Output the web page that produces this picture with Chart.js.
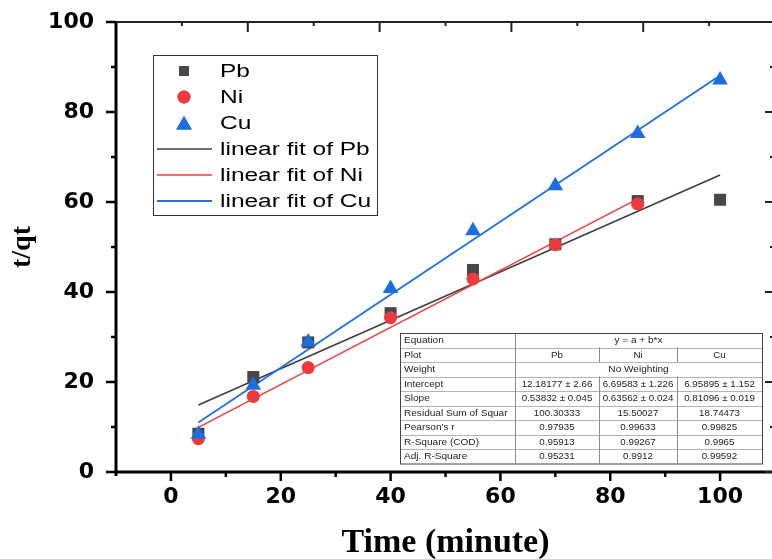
<!DOCTYPE html>
<html>
<head>
<meta charset="utf-8">
<script src="https://cdn.jsdelivr.net/npm/chart.js@4.4.1/dist/chart.umd.min.js"></script>
<style>
    html, body { margin: 0; padding: 0; background: #fff; overflow: hidden; }
    #wrap { position: relative; width: 784px; height: 559px; }
</style>
</head>
<body>
<div id="wrap"><canvas id="kinetics" width="784" height="559"></canvas></div>
<script>
// Measured points (t in minutes, t/qt)
const times = [5, 15, 25, 40, 55, 70, 85, 100];
const pbValues = [8.5, 21.1, 28.8, 35.3, 44.9, 50.6, 60.2, 60.5];
const niValues = [7.4, 16.8, 23.2, 34.3, 42.9, 50.5, 59.6]; // no Ni point at 100
const cuValues = [8.4, 19.3, 28.9, 40.8, 53.6, 63.6, 75.2, 87.1];

// Fitted line end points
const pbFitX = [5, 100];
const pbFitY = [14.9, 66.0];
const niFitX = [5, 85];
const niFitY = [9.9, 60.7];
const cuFitX = [5, 100];
const cuFitY = [11.0, 88.1];

// Axis ticks
const xTicks = [0, 20, 40, 60, 80, 100];
const xMinorTicks = [10, 30, 50, 70, 90];
const yTicks = [0, 20, 40, 60, 80, 100];
const yMinorTicks = [10, 30, 50, 70, 90];
const topMajorTicks = [14, 38, 62, 86];
const topMinorTicks = [2, 26, 50, 74, 98];

// Fit summary table
const tableRows = [
    ['Equation', 'y = a + b*x'],
    ['Plot', 'Pb', 'Ni', 'Cu'],
    ['Weight', 'No Weighting'],
    ['Intercept', '12.18177 ± 2.66', '6.69583 ± 1.226', '6.95895 ± 1.152'],
    ['Slope', '0.53832 ± 0.045', '0.63562 ± 0.024', '0.81096 ± 0.019'],
    ['Residual Sum of Squar', '100.30333', '15.50027', '18.74473'],
    ["Pearson's r", '0.97935', '0.99633', '0.99825'],
    ['R-Square (COD)', '0.95913', '0.99267', '0.9965'],
    ['Adj. R-Square', '0.95231', '0.9912', '0.99592']
];

const PB = '#474747', NI = '#ee3a3a', CU = '#1c6ee0';

const pts = (xs, ys) => ys.map((y, i) => ({ x: xs[i], y: y }));

// stretched text (the original figure is a bit wider than its fonts)
function wideText(ctx, text, x, y, align, sx) {
    ctx.save();
    ctx.translate(x, y);
    ctx.scale(sx, 1);
    ctx.textAlign = align;
    ctx.fillText(text, 0, 0);
    ctx.restore();
}

function drawTable(ctx) {
    const cols = [400, 515, 599, 677, 762];
    const top = 333, rowH = 14.5;
    const bottom = top + rowH * tableRows.length;
    ctx.save();
    ctx.fillStyle = '#fff';
    ctx.fillRect(cols[0], top, cols[4] - cols[0], bottom - top);

    ctx.lineWidth = 1;
    ctx.strokeStyle = '#b4b4b4';
    for (let r = 1; r < tableRows.length; r++) {
        const y = Math.round(top + r * rowH) + 0.5;
        ctx.beginPath(); ctx.moveTo(cols[0], y); ctx.lineTo(cols[4], y); ctx.stroke();
    }
    ctx.strokeStyle = '#8a8a8a';
    ctx.beginPath(); ctx.moveTo(cols[1] + 0.5, top); ctx.lineTo(cols[1] + 0.5, bottom); ctx.stroke();
    tableRows.forEach((row, r) => {
        if (row.length < 3) return;
        const y0 = top + r * rowH, y1 = y0 + rowH;
        [cols[2], cols[3]].forEach(cx => {
            ctx.beginPath(); ctx.moveTo(cx + 0.5, y0); ctx.lineTo(cx + 0.5, y1); ctx.stroke();
        });
    });
    ctx.strokeStyle = '#444';
    ctx.strokeRect(cols[0] + 0.5, top + 0.5, cols[4] - cols[0], bottom - top);

    ctx.fillStyle = '#222';
    ctx.font = '9.5px "Liberation Sans", Arial, sans-serif';
    ctx.textBaseline = 'middle';
    tableRows.forEach((row, r) => {
        const y = top + r * rowH + rowH / 2 + 0.5;
        wideText(ctx, row[0], cols[0] + 4, y, 'left', 1.06);
        if (row.length === 2) {
            wideText(ctx, row[1], (cols[1] + cols[4]) / 2, y, 'center', 1.06);
        } else {
            for (let c = 1; c < 4; c++) {
                wideText(ctx, row[c], (cols[c] + cols[c + 1]) / 2, y, 'center', 1.03);
            }
        }
    });
    ctx.restore();
}

function drawLegend(ctx, chart) {
    const box = { left: 153, top: 55, right: 377, bottom: 215 };
    const rowY = i => 71 + i * 26;
    ctx.save();
    ctx.fillStyle = '#fff';
    ctx.fillRect(box.left, box.top, box.right - box.left, box.bottom - box.top);
    ctx.strokeStyle = '#333';
    ctx.lineWidth = 1;
    ctx.strokeRect(box.left + 0.5, box.top + 0.5, box.right - box.left, box.bottom - box.top);

    const legendRadius = { rect: 7, circle: 6.5, triangle: 9 };
    chart.data.datasets.forEach((ds, i) => {
        const y = rowY(i);
        if (ds.showLine) {
            ctx.strokeStyle = ds.borderColor;
            ctx.lineWidth = ds.borderWidth;
            ctx.beginPath(); ctx.moveTo(157, y); ctx.lineTo(212, y); ctx.stroke();
        } else {
            ctx.fillStyle = ds.backgroundColor;
            Chart.helpers.drawPoint(ctx, {
                pointStyle: ds.pointStyle,
                radius: legendRadius[ds.pointStyle],
                borderWidth: 0,
                rotation: 0
            }, 184, ds.pointStyle === 'triangle' ? y + 2 : y);
            ctx.fill();
        }
        ctx.fillStyle = '#000';
        ctx.font = '18px "Liberation Sans", Arial, sans-serif';
        ctx.textBaseline = 'middle';
        wideText(ctx, ds.label, 220, y + 1, 'left', 1.36);
    });
    ctx.restore();
}

function drawAxes(ctx, xs, ys, area) {
    ctx.save();
    ctx.strokeStyle = '#000';
    ctx.lineCap = 'butt';

    // left and bottom axis lines
    ctx.lineWidth = 3;
    ctx.beginPath(); ctx.moveTo(area.left, area.top - 1); ctx.lineTo(area.left, area.bottom + 4); ctx.stroke();
    ctx.beginPath(); ctx.moveTo(area.left - 1.5, area.bottom); ctx.lineTo(area.right, area.bottom); ctx.stroke();

    // left ticks (outward)
    ctx.lineWidth = 2.5;
    yTicks.forEach(v => {
        const y = ys.getPixelForValue(v);
        ctx.beginPath(); ctx.moveTo(area.left - 10, y); ctx.lineTo(area.left, y); ctx.stroke();
    });
    yMinorTicks.forEach(v => {
        const y = ys.getPixelForValue(v);
        ctx.beginPath(); ctx.moveTo(area.left - 5, y); ctx.lineTo(area.left, y); ctx.stroke();
    });
    // bottom ticks (outward)
    xTicks.forEach(v => {
        const x = xs.getPixelForValue(v);
        ctx.beginPath(); ctx.moveTo(x, area.bottom); ctx.lineTo(x, area.bottom + 9); ctx.stroke();
    });
    xMinorTicks.forEach(v => {
        const x = xs.getPixelForValue(v);
        ctx.beginPath(); ctx.moveTo(x, area.bottom); ctx.lineTo(x, area.bottom + 5); ctx.stroke();
    });

    // top axis with inward ticks
    ctx.strokeStyle = '#222';
    ctx.lineWidth = 2;
    ctx.beginPath(); ctx.moveTo(area.left, area.top); ctx.lineTo(area.right, area.top); ctx.stroke();
    topMajorTicks.forEach(v => {
        const x = xs.getPixelForValue(v);
        ctx.beginPath(); ctx.moveTo(x, area.top); ctx.lineTo(x, area.top + 10); ctx.stroke();
    });
    topMinorTicks.forEach(v => {
        const x = xs.getPixelForValue(v);
        ctx.beginPath(); ctx.moveTo(x, area.top); ctx.lineTo(x, area.top + 4); ctx.stroke();
    });

    // right axis (off the page) with inward ticks
    ctx.beginPath(); ctx.moveTo(area.right, area.top); ctx.lineTo(area.right, area.bottom); ctx.stroke();
    yTicks.forEach(v => {
        const y = ys.getPixelForValue(v);
        ctx.beginPath(); ctx.moveTo(area.right, y); ctx.lineTo(area.right - 10, y); ctx.stroke();
    });
    yMinorTicks.forEach(v => {
        const y = ys.getPixelForValue(v);
        ctx.beginPath(); ctx.moveTo(area.right, y); ctx.lineTo(area.right - 5, y); ctx.stroke();
    });
    ctx.restore();
}

const overlay = {
    id: 'overlay',
    afterDraw(chart) {
        const ctx = chart.ctx;
        drawTable(ctx);
        drawLegend(ctx, chart);
        drawAxes(ctx, chart.scales.x, chart.scales.y, chart.chartArea);
    }
};

const tickFont = { family: '"DejaVu Sans", sans-serif', size: 22, weight: 'bold' };

new Chart(document.getElementById('kinetics'), {
    type: 'scatter',
    data: {
        datasets: [
            { label: 'Pb', data: pts(times, pbValues), pointStyle: 'rect', pointRadius: 8.5,
              backgroundColor: PB, pointBorderWidth: 0, order: 3 },
            { label: 'Ni', data: pts(times, niValues), pointStyle: 'circle', pointRadius: 6.5,
              backgroundColor: NI, pointBorderWidth: 0, order: 2 },
            { label: 'Cu', data: pts(times, cuValues), pointStyle: 'triangle', pointRadius: 9,
              backgroundColor: CU, pointBorderWidth: 0, order: 1 },
            { label: 'linear fit of Pb', data: pts(pbFitX, pbFitY), showLine: true, pointRadius: 0,
              borderColor: '#3d3d3d', borderWidth: 1.5, order: 6 },
            { label: 'linear fit of Ni', data: pts(niFitX, niFitY), showLine: true, pointRadius: 0,
              borderColor: '#ee3b3b', borderWidth: 1.5, order: 5 },
            { label: 'linear fit of Cu', data: pts(cuFitX, cuFitY), showLine: true, pointRadius: 0,
              borderColor: '#1f70e0', borderWidth: 1.8, order: 4 }
        ]
    },
    options: {
        responsive: false,
        animation: false,
        layout: { padding: { top: 22, left: 0, right: 0, bottom: 0 } },
        plugins: {
            legend: { display: false },
            tooltip: { enabled: false }
        },
        scales: {
            x: {
                type: 'linear',
                min: -10,
                max: 110,
                afterBuildTicks: s => { s.ticks = xTicks.map(v => ({ value: v })); },
                afterFit: s => { s.height = 87; s.paddingLeft = 0; s.paddingRight = 0; },
                grid: { display: false, drawTicks: false },
                border: { display: false },
                ticks: { font: tickFont, color: '#000', padding: 12, maxRotation: 0 },
                title: {
                    display: true,
                    text: 'Time (minute)',
                    color: '#000',
                    font: { family: '"Liberation Serif", "Times New Roman", serif', size: 34, weight: 'bold', lineHeight: 1 },
                    padding: { top: 0, bottom: -1 }
                }
            },
            y: {
                min: 0,
                max: 100,
                afterBuildTicks: s => { s.ticks = yTicks.map(v => ({ value: v })); },
                afterFit: s => { s.width = 116; s.paddingTop = 0; s.paddingBottom = 0; },
                grid: { display: false, drawTicks: false },
                border: { display: false },
                ticks: { font: tickFont, color: '#000', padding: 22 },
                title: {
                    display: true,
                    text: 't/qt',
                    color: '#000',
                    font: { family: '"Liberation Serif", "Times New Roman", serif', size: 28, weight: 'bold', lineHeight: 1 },
                    padding: { top: 9, bottom: 0 }
                }
            }
        }
    },
    plugins: [overlay]
});
</script>
</body>
</html>
